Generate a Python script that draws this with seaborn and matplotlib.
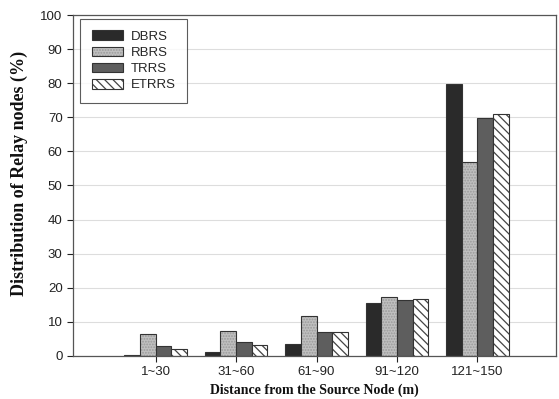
import matplotlib
matplotlib.use("Agg")
import matplotlib.pyplot as plt
import matplotlib.patches as mpatches
import matplotlib.colors as mcolors
import seaborn as sns
import pandas as pd

categories = ["1~30", "31~60", "61~90", "91~120", "121~150"]
schemes = ["DBRS", "RBRS", "TRRS", "ETRRS"]
dbrs = [0.3, 1.1, 3.6, 15.4, 79.9]
rbrs = [6.5, 7.3, 11.8, 17.4, 56.9]
trrs = [2.8, 4.0, 7.0, 16.4, 69.9]
etrrs = [2.0, 3.3, 7.0, 16.7, 71.1]

colors = ["#2a2a2a", "#c0c0c0", "#5e5e5e", "#ffffff"]
hatches = [None, "......", None, "\\\\\\\\"]
hatch_colors = [None, "#9a9a9a", None, "#444444"]

rows = []
for name, vals in zip(schemes, [dbrs, rbrs, trrs, etrrs]):
    for c, v in zip(categories, vals):
        rows.append({"Distance": c, "Scheme": name, "Value": v})
df = pd.DataFrame(rows)

sns.set_style("white")
plt.rcParams["hatch.linewidth"] = 0.9

fig = plt.figure(figsize=(5.59, 3.99), dpi=100)
ax = fig.add_axes([0.1306, 0.1078, 0.8640, 0.8546])

sns.barplot(data=df, x="Distance", y="Value", hue="Scheme", order=categories,
            hue_order=schemes, palette=colors, width=0.78, edgecolor="#333333",
            linewidth=0.8, ax=ax, legend=False, saturation=1)


def style_patch(p, h, hc):
    if h:
        p.set_hatch(h)
        p._hatch_color = mcolors.to_rgba(hc)


for cont, h, hc in zip(ax.containers, hatches, hatch_colors):
    for p in cont.patches:
        style_patch(p, h, hc)

ax.set_xlim(-1.03, 4.98)
ax.set_ylim(0, 100)
ax.set_yticks(range(0, 101, 10))
ax.yaxis.grid(True, color="#dddddd", linewidth=0.8)
ax.set_axisbelow(True)
for s in ax.spines.values():
    s.set_color("#555555")
    s.set_linewidth(0.9)

ax.tick_params(axis="both", labelsize=9.5, colors="#222222", direction="out",
               length=4, width=0.8, left=True, bottom=True)
for lab in ax.get_xticklabels() + ax.get_yticklabels():
    lab.set_fontfamily("Liberation Sans")

ax.set_xlabel("Distance from the Source Node (m)", fontfamily="Liberation Serif",
              fontweight="bold", fontsize=10, color="#111111", labelpad=4)
ax.set_ylabel("Distribution of Relay nodes (%)", fontfamily="Liberation Serif",
              fontweight="bold", fontsize=13, color="#111111")
ax.yaxis.set_label_coords(-0.094, 0.535)

handles = []
for c, h, hc in zip(colors, hatches, hatch_colors):
    hp = mpatches.Patch(facecolor=c, edgecolor="#333333", linewidth=0.8)
    style_patch(hp, h, hc)
    handles.append(hp)
leg = ax.legend(handles, schemes, loc="upper left", bbox_to_anchor=(0.0155, 0.988),
                borderaxespad=0, frameon=True, fancybox=False, edgecolor="#333333",
                prop={"family": "Liberation Sans", "size": 9.5},
                handlelength=2.4, handleheight=0.72, labelspacing=0.3,
                borderpad=0.85, handletextpad=0.55)
leg.get_frame().set_linewidth(0.8)

fig.savefig("out.png", dpi=100)
